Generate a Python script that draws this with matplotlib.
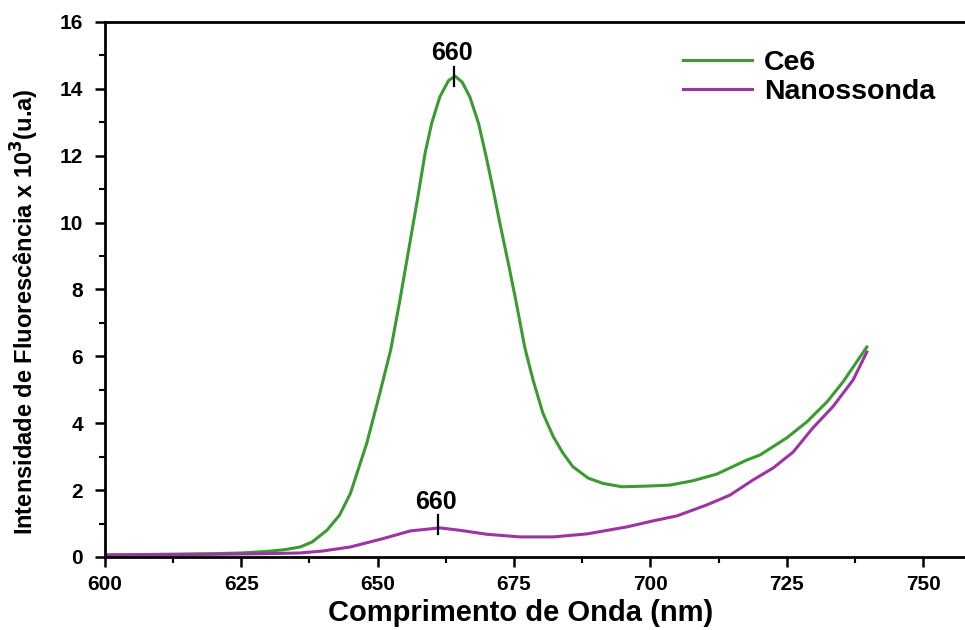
import matplotlib
matplotlib.use("Agg")
import matplotlib.pyplot as plt
from matplotlib.ticker import MultipleLocator

plt.rcParams['font.family'] = ['Liberation Sans', 'DejaVu Sans']
plt.rcParams['font.weight'] = 'bold'

# Ce6 emission spectrum (x10^3 u.a.)
ce6_nm = [600, 610, 620, 625, 630, 633, 635.8, 638, 640.7, 643, 645, 648, 650.4,
          652.4, 654.1, 655.7, 657.3, 658.7, 659.9, 661.4, 663, 664.2, 665.5,
          666.9, 668.5, 669.9, 671.2, 672.4, 674, 675.3, 677, 678.5, 680.3, 682.2, 684,
          685.8, 688.6, 691.3, 694.8, 699.4, 703.6, 707.8, 712.2, 717.7, 720.1,
          725, 728.7, 732.4, 735.3, 739.7]
ce6_val = [0.06, 0.08, 0.10, 0.12, 0.17, 0.22, 0.30, 0.45, 0.80, 1.25, 1.90, 3.40, 4.90,
           6.20, 7.70, 9.20, 10.70, 12.08, 12.97, 13.76, 14.25, 14.38, 14.20,
           13.76, 12.97, 11.97, 10.97, 9.99, 8.75, 7.70, 6.25, 5.29, 4.30, 3.60, 3.10,
           2.70, 2.36, 2.20, 2.10, 2.12, 2.15, 2.28, 2.48, 2.90, 3.05,
           3.56, 4.04, 4.64, 5.23, 6.28]

# Nanossonda emission spectrum (x10^3 u.a.)
nano_nm = [600, 610, 620, 625, 630, 635.8, 640, 645, 651, 656, 661.4, 665, 670,
           676.1, 682.2, 688.4, 695.7, 700.5, 704.9, 710.4, 714.6, 718.8, 722.5,
           726.2, 729.8, 733.5, 737.2, 739.7]
nano_val = [0.06, 0.07, 0.08, 0.09, 0.10, 0.12, 0.18, 0.30, 0.55, 0.78, 0.87, 0.80, 0.68,
            0.60, 0.60, 0.69, 0.90, 1.08, 1.23, 1.56, 1.85, 2.30, 2.66,
            3.14, 3.86, 4.50, 5.30, 6.13]

# peak labels: (text, marker x, marker y bottom, marker y top, text y)
peak_labels = [("660", 664.0, 14.1, 14.65, 14.72),
               ("660", 661.0, 0.70, 1.25, 1.30)]

green = '#3a9c30'
purple = '#9c34a3'

fig = plt.figure(figsize=(9.65, 6.3), dpi=100)
ax = fig.add_axes([0.1088, 0.1159, 0.8912, 0.8492])

ax.plot(ce6_nm, ce6_val, color=green, lw=2.2, label='Ce6')
ax.plot(nano_nm, nano_val, color=purple, lw=2.2, label='Nanossonda')

for txt, px, y0, y1, ty in peak_labels:
    ax.plot([px, px], [y0, y1], color='black', lw=1.6)
    ax.text(px - 0.4, ty, txt, ha='center', va='bottom', fontsize=18, fontweight='bold')

ax.set_xlim(600, 757.7)
ax.set_ylim(0, 16)
ax.xaxis.set_major_locator(MultipleLocator(25))
ax.xaxis.set_minor_locator(MultipleLocator(12.5))
ax.yaxis.set_major_locator(MultipleLocator(2))
ax.yaxis.set_minor_locator(MultipleLocator(1))
ax.tick_params(which='major', direction='out', length=7, width=1.8, labelsize=15)
ax.tick_params(axis='y', which='major', pad=9)
ax.tick_params(axis='x', which='major', pad=6)
ax.tick_params(which='minor', direction='out', length=4, width=1.5)
ax.tick_params(top=False, right=False)
for lab in ax.get_xticklabels() + ax.get_yticklabels():
    lab.set_fontweight('bold')

ax.spines['right'].set_visible(False)
for s in ['left', 'bottom', 'top']:
    ax.spines[s].set_linewidth(2.0)

ax.set_xlabel('Comprimento de Onda (nm)', fontsize=21, fontweight='bold')
ax.xaxis.set_label_coords(0.483, -0.079)
ax.set_ylabel('Intensidade de Fluorescência x 10$^{\\mathbf{3}}$(u.a)', fontsize=17,
              fontweight='bold')
ax.yaxis.set_label_coords(-0.074, 0.458)

leg = ax.legend(loc='upper left', bbox_to_anchor=(0.642, 0.995), frameon=False,
                fontsize=20.5, handlelength=2.45, handletextpad=0.4, labelspacing=0.1)
for t in leg.get_texts():
    t.set_fontweight('bold')

fig.savefig('out.png', dpi=100)
